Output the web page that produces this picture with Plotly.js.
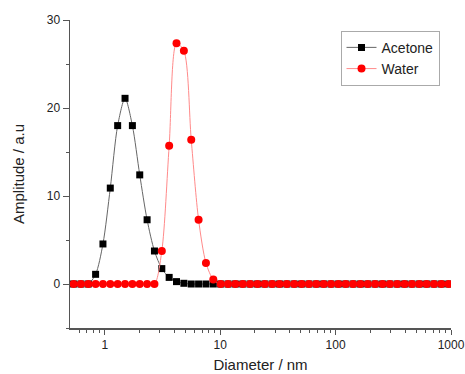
<!DOCTYPE html>
<html>
<head>
<meta charset="utf-8">
<script src="https://cdn.plot.ly/plotly-3.0.1.min.js"></script>
<style>html,body{margin:0;padding:0;background:#fff;}#chart{width:465px;height:374px;}</style>
</head>
<body>
<div id="chart"></div>
<script>
// Size bins (nm)
var diameter = [0.5365, 0.6213, 0.7195, 0.8332, 0.9649, 1.117, 1.294, 1.499, 1.736, 2.010,
  2.328, 2.696, 3.122, 3.615, 4.187, 4.849, 5.615, 6.503, 7.531, 8.721,
  10.10, 11.70, 13.54, 15.69, 18.17, 21.04, 24.36, 28.21, 32.67, 37.84,
  43.82, 50.75, 58.77, 68.06, 78.82, 91.28, 105.7, 122.4, 141.8, 164.2,
  190.1, 220.2, 255.0, 295.3, 342.0, 396.1, 458.7, 531.2, 615.1, 712.4,
  825.0, 955.4];
var acetone = [0, 0, 0, 1.1, 4.55, 10.9, 18.0, 21.1, 18.0, 12.4,
  7.3, 3.75, 1.75, 0.75, 0.27, 0.08, 0, 0, 0, 0,
  0, 0, 0, 0, 0, 0, 0, 0, 0, 0,
  0, 0, 0, 0, 0, 0, 0, 0, 0, 0,
  0, 0, 0, 0, 0, 0, 0, 0, 0, 0,
  0, 0];
var water = [0, 0, 0, 0, 0, 0, 0, 0, 0, 0,
  0, 0, 3.75, 15.7, 27.35, 26.5, 16.4, 7.3, 2.4, 0.5,
  0, 0, 0, 0, 0, 0, 0, 0, 0, 0,
  0, 0, 0, 0, 0, 0, 0, 0, 0, 0,
  0, 0, 0, 0, 0, 0, 0, 0, 0, 0,
  0, 0];
var xTickVals = [1, 10, 100, 1000];
var xTickText = ["1", "10", "100", "1000"];
var xMinorVals = [0.6, 0.7, 0.8, 0.9, 2, 3, 4, 5, 6, 7, 8, 9, 20, 30, 40, 50, 60, 70, 80, 90,
  200, 300, 400, 500, 600, 700, 800, 900];

var traces = [
  {x: diameter, y: acetone, name: "Acetone", type: "scatter", mode: "lines+markers",
   line: {color: "#666666", width: 1, shape: "spline", smoothing: 0.8},
   marker: {symbol: "square", size: 7, color: "#000000"}},
  {x: diameter, y: water, name: "Water", type: "scatter", mode: "lines+markers",
   line: {color: "#ff8a8a", width: 1, shape: "spline", smoothing: 0.8},
   marker: {symbol: "circle", size: 8, color: "#ff0000"}}
];

var axisColor = "#555555";
var layout = {
  width: 465, height: 374,
  margin: {l: 70, r: 14, t: 20, b: 46},
  paper_bgcolor: "#ffffff", plot_bgcolor: "#ffffff",
  font: {family: "Liberation Sans, Arial, sans-serif", color: "#222222"},
  showlegend: true,
  legend: {x: 0.71, y: 0.965, xanchor: "left", yanchor: "top",
    bordercolor: "#aaaaaa", borderwidth: 1, bgcolor: "#ffffff",
    font: {size: 14, color: "#222222"}, tracegroupgap: 0, itemwidth: 30},
  xaxis: {
    type: "log", range: [Math.log10(0.5), 3],
    showline: true, linecolor: axisColor, linewidth: 1.5,
    showgrid: false, zeroline: false,
    ticks: "outside", ticklen: 5, tickcolor: axisColor, tickwidth: 1,
    tickmode: "array", tickvals: xTickVals, ticktext: xTickText,
    tickfont: {size: 12, color: "#222222"},
    minor: {tickmode: "array", tickvals: xMinorVals, ticks: "outside", ticklen: 3, tickcolor: axisColor, showgrid: false},
    title: {text: "Diameter / nm", font: {size: 15, color: "#222222"}, standoff: 8}
  },
  yaxis: {
    range: [-5, 30],
    showline: true, linecolor: axisColor, linewidth: 1.5,
    showgrid: false, zeroline: false,
    ticks: "outside", ticklen: 6, tickcolor: axisColor, tickwidth: 1,
    dtick: 10, tick0: 0,
    tickfont: {size: 12, color: "#222222"},
    minor: {dtick: 5, tick0: 0, ticks: "outside", ticklen: 3, tickcolor: axisColor, showgrid: false},
    title: {text: "Amplitude / a.u", font: {size: 15, color: "#222222"}, standoff: 18}
  }
};
Plotly.newPlot("chart", traces, layout, {displayModeBar: false, staticPlot: true});
</script>
</body>
</html>
